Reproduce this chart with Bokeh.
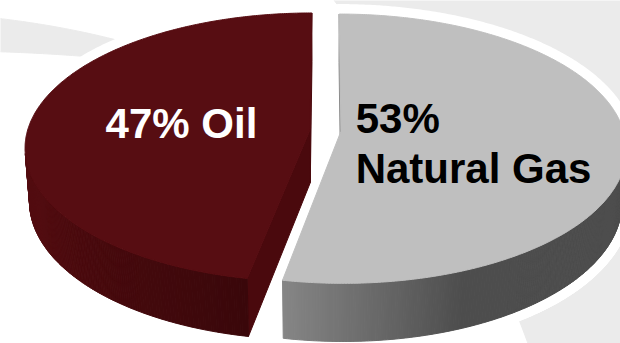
import numpy as np
from bokeh.plotting import figure
from bokeh.models import Range1d
from bokeh.core.properties import value
from bokeh.embed import file_html
from bokeh.resources import INLINE

# ---------------- data ----------------
categories = ["Oil", "Natural Gas"]
shares = [47, 53]
label_lines = [["47% Oil"], ["53%", "Natural Gas"]]

# ---------------- style ----------------
top_colors = ["#570d12", "#bfbfbf"]
cut_colors = ["#4a090d", "#8a8a8a"]
wall_light = ["#520c10", "#868686"]
wall_dark = ["#3a070a", "#4d4d4d"]
wall_shade_range = [(205.0, 259.0), (259.0, 292.0)]
text_colors = ["white", "black"]
label_align = ["center", "left"]
label_shift = [(11.0, 14.0), (-127.0, -4.0)]   # to the text baseline
BASE_TO_MID = 14.5
LINE_STEP = 50.0
FONT = "Liberation Sans"
FONT_SIZE = "42px"
SWOOSH = "#ebebeb"
HALO = 20

# ---------------- 3D projection ----------------
W, H = 620, 343
PHI = np.radians(27.9)
CPHI, SPHI = np.cos(PHI), np.sin(PHI)
DIST, FOC = 6.80, 1921.0
CX, CY = 325.0, 130.0
THICK = 0.215
EXPLODE = 0.055
START = 90.0


def proj(u, v, h):
    u = np.asarray(u, float)
    v = np.asarray(v, float)
    yc = v * SPHI + h * CPHI
    z = DIST + v * CPHI - h * SPHI
    return CX + FOC * u / z, CY - FOC * yc / z


def lerp_color(c1, c2, t):
    a = [int(c1[k:k + 2], 16) for k in (1, 3, 5)]
    b = [int(c2[k:k + 2], 16) for k in (1, 3, 5)]
    return "#%02x%02x%02x" % tuple(int(round(a[k] + (b[k] - a[k]) * t)) for k in range(3))


def bez(p0, p1, p2, n=60):
    t = np.linspace(0, 1, n)[:, None]
    pts = (1 - t) ** 2 * np.array(p0) + 2 * t * (1 - t) * np.array(p1) + t ** 2 * np.array(p2)
    return pts[:, 0], pts[:, 1]


p = figure(width=W, height=H, output_backend="svg", toolbar_location=None,
           x_range=Range1d(0, W), y_range=Range1d(H, 0), min_border=0,
           background_fill_color="white", border_fill_color="white")
p.axis.visible = False
p.grid.visible = False
p.outline_line_color = None

# ---------------- background swooshes (decoration) ----------------
ux, uy = bez((-10, 17), (110, 30), (210, 70))
lx, ly = bez((210, 70), (100, 54), (-10, 51))
p.patch(list(ux) + list(lx), list(uy) + list(ly), fill_color=SWOOSH, line_color=SWOOSH)
rx, ry = bez((330, -5), (470, 180), (530, 350))
p.patch(list(rx) + [640, 640], list(ry) + [350, -5], fill_color=SWOOSH, line_color=SWOOSH)

# ---------------- slices ----------------
total = float(sum(shares))
bounds = START + 360.0 * np.cumsum([0] + shares) / total

fill_xs, fill_ys, fill_cols = [], [], []
halo_xs, halo_ys = [], []
lab_x, lab_y, lab_t, lab_c, lab_a = [], [], [], [], []

for i, cat in enumerate(categories):
    a0, a1 = bounds[i], bounds[i + 1]
    mid = np.radians((a0 + a1) / 2)
    eu, ev = EXPLODE * np.cos(mid), EXPLODE * np.sin(mid)
    th = np.radians(np.linspace(a0, a1, int(abs(a1 - a0)) * 2 + 1))
    ut, vt = eu + np.cos(th), ev + np.sin(th)
    xt, yt = proj(ut, vt, 0.0)
    xb, yb = proj(ut, vt, -THICK)
    cxt, cyt = proj(eu, ev, 0.0)
    cxb, cyb = proj(eu, ev, -THICK)
    cxt, cyt, cxb, cyb = float(cxt), float(cyt), float(cxb), float(cyb)

    faces = []
    # radial cut faces (only those facing the camera)
    for ang, sgn in ((a0, 1.0), (a1, -1.0)):
        r = np.radians(ang)
        nu, nv = sgn * np.sin(r), -sgn * np.cos(r)
        if (-eu) * nu + (-DIST * CPHI - ev) * nv > 0:
            px, py = proj(eu + np.cos(r), ev + np.sin(r), 0.0)
            qx, qy = proj(eu + np.cos(r), ev + np.sin(r), -THICK)
            faces.append(([cxt, float(px), float(qx), cxb], [cyt, float(py), float(qy), cyb], cut_colors[i]))
    # outer wall (front-facing segments only)
    s0, s1 = wall_shade_range[i]
    for j in range(len(th) - 1):
        tm = 0.5 * (th[j] + th[j + 1])
        if -(1 + eu * np.cos(tm) + ev * np.sin(tm)) - DIST * CPHI * np.sin(tm) > 0:
            deg = np.degrees(tm)
            f = min(max((deg - s0) / (s1 - s0), 0.0), 1.0)
            col = lerp_color(wall_light[i], wall_dark[i], f)
            faces.append(([xt[j], xt[j + 1], xb[j + 1], xb[j]],
                          [yt[j], yt[j + 1], yb[j + 1], yb[j]], col))
    # top face
    faces.append(([cxt] + list(xt), [cyt] + list(yt), top_colors[i]))

    for fx, fy, fc in faces:
        fill_xs.append(list(map(float, fx)))
        fill_ys.append(list(map(float, fy)))
        fill_cols.append(fc)
        halo_xs.append(list(map(float, fx)))
        halo_ys.append(list(map(float, fy)))

    # label anchored at half radius on the bisector
    lxp, lyp = proj(eu + 0.5 * np.cos(mid), ev + 0.5 * np.sin(mid), 0.0)
    dx, dy = label_shift[i]
    for k, line in enumerate(label_lines[i]):
        lab_x.append(float(lxp) + dx)
        lab_y.append(float(lyp) + dy + k * LINE_STEP - BASE_TO_MID)
        lab_t.append(line)
        lab_c.append(text_colors[i])
        lab_a.append(label_align[i])

p.patches(halo_xs, halo_ys, fill_color="white", line_color="white",
          line_width=HALO, line_join="round")
p.patches(fill_xs, fill_ys, fill_color=fill_cols, line_color=fill_cols, line_width=1)

for al in ("center", "left"):
    idx = [k for k in range(len(lab_t)) if lab_a[k] == al]
    if not idx:
        continue
    p.text(x=[lab_x[k] for k in idx], y=[lab_y[k] for k in idx], text=[lab_t[k] for k in idx],
           text_color=[lab_c[k] for k in idx], text_font=value(FONT), text_font_style="bold",
           text_font_size=FONT_SIZE, text_align=al, text_baseline="middle")

open("out.html", "w").write(file_html(p, INLINE))
